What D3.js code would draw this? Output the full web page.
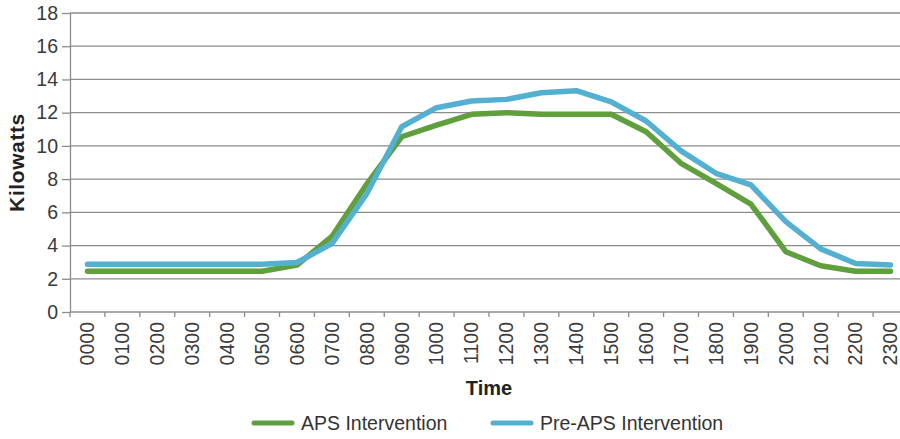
<!DOCTYPE html>
<html>
<head>
<meta charset="utf-8">
<script src="https://cdn.jsdelivr.net/npm/d3@7"></script>
<style>
  html, body { margin: 0; padding: 0; background: #fff; }
  svg { display: block; font-family: "Liberation Sans", Arial, sans-serif; }
</style>
</head>
<body>
<svg id="chart" width="900" height="439"></svg>
<script>
const times = ["0000","0100","0200","0300","0400","0500","0600","0700","0800","0900","1000","1100",
               "1200","1300","1400","1500","1600","1700","1800","1900","2000","2100","2200","2300"];
const apsIntervention = [2.45,2.45,2.45,2.45,2.45,2.45,2.82,4.55,7.7,10.55,11.25,11.9,
                         12.0,11.9,11.9,11.9,10.85,8.95,7.75,6.5,3.63,2.78,2.45,2.45];
const preApsIntervention = [2.88,2.88,2.88,2.88,2.88,2.88,2.98,4.12,7.12,11.15,12.3,12.7,
                            12.8,13.2,13.32,12.65,11.5,9.7,8.35,7.65,5.44,3.8,2.92,2.83];
const yTicks = [0,2,4,6,8,10,12,14,16,18];
const seriesNames = ["APS Intervention", "Pre-APS Intervention"];
const seriesColors = ["#5f9f3c", "#53b0d1"];

(function () {
const svg = d3.select("#chart");
const mLeft = 70, mRight = 908, mTop = 13, mBottom = 312;

const x = d3.scaleBand().domain(times).range([mLeft, mRight]).padding(0);
const y = d3.scaleLinear().domain([0, 18]).range([mBottom, mTop]);

// gridlines
svg.append("g").selectAll("line").data(yTicks.filter(d => d > 0)).join("line")
  .attr("x1", mLeft).attr("x2", mRight)
  .attr("y1", d => y(d)).attr("y2", d => y(d))
  .attr("stroke", "#8c8c8c").attr("stroke-width", 1.3);

// y axis
const yAxis = d3.axisLeft(y).tickValues(yTicks).tickSize(8).tickSizeOuter(0).tickPadding(4);
const gy = svg.append("g").attr("transform", `translate(${mLeft},0)`).call(yAxis);
gy.select(".domain").attr("stroke", "#8c8c8c").attr("stroke-width", 1.3);
gy.selectAll(".tick line").attr("stroke", "#8c8c8c").attr("stroke-width", 1.3);
gy.selectAll(".tick text").attr("font-size", "19.5px").attr("fill", "#3a3a3a")
  .attr("font-family", "'Liberation Sans', Arial, sans-serif");

// x axis (labels at band centers, ticks at boundaries)
const xAxis = d3.axisBottom(x).tickSize(0).tickSizeOuter(0);
const gx = svg.append("g").attr("transform", `translate(0,${mBottom})`).call(xAxis);
gx.select(".domain").attr("stroke", "#8c8c8c").attr("stroke-width", 1.3)
  .attr("d", `M${mLeft},0H${mRight}`);
gx.selectAll(".tick text")
  .attr("font-size", "19.5px").attr("fill", "#3a3a3a")
  .attr("font-family", "'Liberation Sans', Arial, sans-serif")
  .attr("text-anchor", "end")
  .attr("transform", "rotate(-90)")
  .attr("x", -10).attr("y", 0).attr("dy", "0.35em");
svg.append("g").selectAll("line").data(times.map(d => x(d)).concat([mRight])).join("line")
  .attr("x1", d => d).attr("x2", d => d)
  .attr("y1", mBottom).attr("y2", mBottom + 5)
  .attr("stroke", "#8c8c8c").attr("stroke-width", 1.3);

// axis titles
svg.append("text")
  .attr("transform", `translate(24,${(mTop + mBottom) / 2}) rotate(-90)`)
  .attr("text-anchor", "middle")
  .attr("font-size", "21px").attr("font-weight", "bold").attr("fill", "#222")
  .attr("letter-spacing", "0.6px")
  .text("Kilowatts");
svg.append("text")
  .attr("x", (mLeft + mRight) / 2).attr("y", 395)
  .attr("text-anchor", "middle")
  .attr("font-size", "20px").attr("font-weight", "bold").attr("fill", "#222")
  .text("Time");

// lines
const line = d3.line()
  .x((d, i) => x(times[i]) + x.bandwidth() / 2)
  .y(d => y(d));
const lines = svg.append("g");
[apsIntervention, preApsIntervention].forEach((vals, k) => {
  lines.append("path").datum(vals)
    .attr("d", line)
    .attr("fill", "none")
    .attr("stroke", seriesColors[k])
    .attr("stroke-width", 5.5)
    .attr("stroke-linejoin", "round")
    .attr("stroke-linecap", "round");
});

// legend
const legendItems = [{name: seriesNames[0], color: seriesColors[0], x: 254},
                     {name: seriesNames[1], color: seriesColors[1], x: 493}];
const lg = svg.append("g");
legendItems.forEach(it => {
  lg.append("line").attr("x1", it.x).attr("x2", it.x + 38)
    .attr("y1", 423).attr("y2", 423)
    .attr("stroke", it.color).attr("stroke-width", 5).attr("stroke-linecap", "round");
  lg.append("text").attr("x", it.x + 47).attr("y", 430)
    .attr("font-size", "19.5px").attr("fill", "#333")
    .text(it.name);
});
})();
</script>
</body>
</html>
